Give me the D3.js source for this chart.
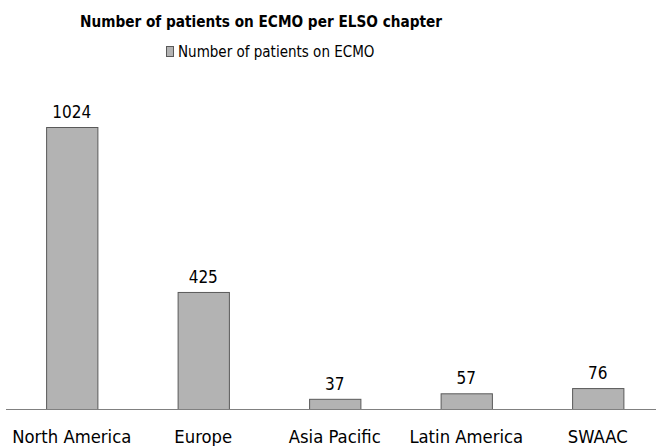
<!DOCTYPE html>
<html><head><meta charset="utf-8">
<script src="https://cdn.jsdelivr.net/npm/d3@7"></script>
<style>body{margin:0;background:#fff}svg{display:block}text{font-family:"DejaVu Sans Condensed","DejaVu Sans",sans-serif;fill:#000}</style>
</head><body>
<svg id="c" width="656" height="446"></svg>
<script>
const categories = ["North America","Europe","Asia Pacific","Latin America","SWAAC"];
const values = [1024,425,37,57,76];
const seriesName = "Number of patients on ECMO";
const title = "Number of patients on ECMO per ELSO chapter";

const svg = d3.select("#c");
const x = d3.scaleBand().domain(categories).range([6,663.5]).paddingInner(0.61).paddingOuter(0.305);
const y = d3.scaleLinear().domain([0,1024]).range([409,127]);

svg.append("text").attr("x",261).attr("y",27).attr("text-anchor","middle")
  .attr("font-weight","bold").attr("font-size",15.2).text(title);
svg.append("rect").attr("x",166.5).attr("y",46.5).attr("width",7).attr("height",10)
  .attr("fill","#b3b3b3").attr("stroke","#595959");
svg.append("text").attr("x",178).attr("y",57).attr("font-size",15).text(seriesName);

svg.selectAll("rect.bar").data(values).join("rect").attr("class","bar")
  .attr("x",(d,i)=>x(categories[i])+0.5).attr("y",d=>y(d)+0.5)
  .attr("width",x.bandwidth()).attr("height",d=>y(0)-y(d))
  .attr("fill","#b3b3b3").attr("stroke","#595959");

svg.selectAll("text.val").data(values).join("text").attr("class","val")
  .attr("x",(d,i)=>x(categories[i])+x.bandwidth()/2).attr("y",d=>y(d)-9)
  .attr("text-anchor","middle").attr("font-size",17).text(d=>d);

const g = svg.append("g").attr("transform","translate(0,409.5)");
g.append("path").attr("stroke","#808080").attr("fill","none").attr("d","M6,0H656");
g.selectAll("text.cat").data(categories).join("text").attr("class","cat")
  .attr("x",d=>x(d)+x.bandwidth()/2).attr("y",33.5).attr("text-anchor","middle")
  .attr("font-size",18.3).text(d=>d);
</script>
</body></html>
